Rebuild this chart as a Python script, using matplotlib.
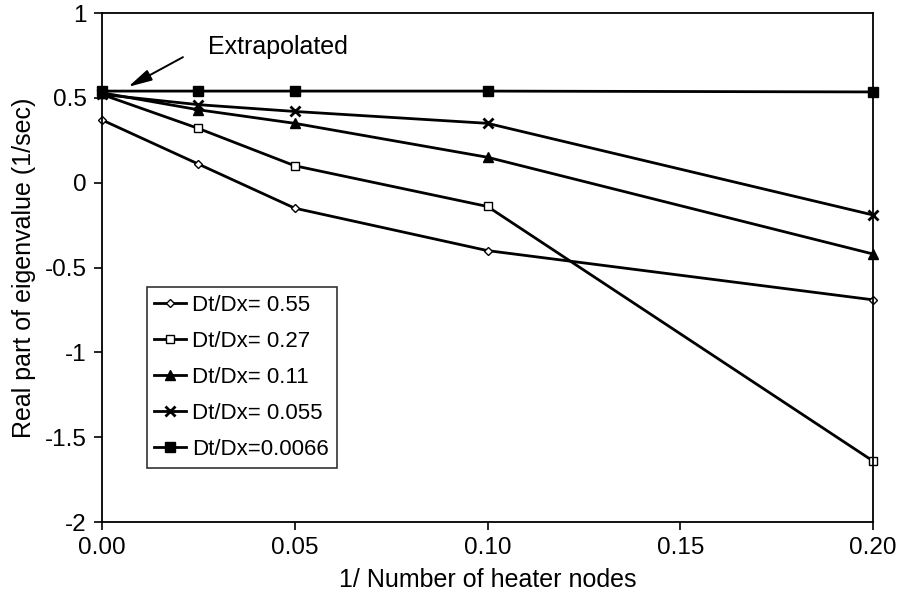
import matplotlib
matplotlib.use("Agg")
import matplotlib.pyplot as plt

plt.rcParams['font.family'] = ['Liberation Sans', 'DejaVu Sans']

# 1 / number of heater nodes
inv_nodes = [0.0, 0.025, 0.05, 0.10, 0.20]

# Real part of the eigenvalue (1/sec) for each time-step / space-step ratio
labels = ["Dt/Dx= 0.55", "Dt/Dx= 0.27", "Dt/Dx= 0.11", "Dt/Dx= 0.055", "Dt/Dx=0.0066"]
r_055 = [0.37, 0.11, -0.15, -0.40, -0.69]
r_027 = [0.52, 0.32, 0.10, -0.14, -1.64]
r_011 = [0.53, 0.43, 0.35, 0.15, -0.42]
r_0055 = [0.52, 0.46, 0.42, 0.35, -0.19]
r_00066 = [0.54, 0.54, 0.54, 0.54, 0.535]

x_ticks = [0.0, 0.05, 0.10, 0.15, 0.20]
x_ticklabels = ["0.00", "0.05", "0.10", "0.15", "0.20"]
y_ticks = [-2, -1.5, -1, -0.5, 0, 0.5, 1]
y_ticklabels = ["-2", "-1.5", "-1", "-0.5", "0", "0.5", "1"]

fig = plt.figure(figsize=(9.05, 5.92), dpi=100)
ax = fig.add_axes([0.1127, 0.118, 0.852, 0.860])

styles = [
    dict(marker='D', markersize=4.5, markerfacecolor='white'),
    dict(marker='s', markersize=6, markerfacecolor='white'),
    dict(marker='^', markersize=6.5, markerfacecolor='black'),
    dict(marker='x', markersize=7, markeredgewidth=2),
    dict(marker='s', markersize=6.5, markerfacecolor='black'),
]
series = [r_055, r_027, r_011, r_0055, r_00066]
for vals, lab, st in zip(series, labels, styles):
    ax.plot(inv_nodes, vals, color='black', linewidth=2, label=lab,
            markeredgecolor='black', clip_on=False, **st)

ax.set_xlim(0, 0.2)
ax.set_ylim(-2, 1)
ax.set_xticks(x_ticks)
ax.set_xticklabels(x_ticklabels)
ax.set_yticks(y_ticks)
ax.set_yticklabels(y_ticklabels)
ax.tick_params(direction='out', length=6, width=1.2, labelsize=17.5, colors='black', pad=5)
for sp in ax.spines.values():
    sp.set_linewidth(1.3)
    sp.set_color('black')

ax.set_xlabel("1/ Number of heater nodes", fontsize=18, labelpad=6)
ax.set_ylabel("Real part of eigenvalue (1/sec)", fontsize=18, labelpad=6)

# "Extrapolated" label with its pointer toward the x = 0 values
ax.text(0.0275, 0.80, "Extrapolated", fontsize=18, ha='left', va='center')
ax.annotate("", xy=(0.0068, 0.565), xytext=(0.0210, 0.74),
            arrowprops=dict(arrowstyle='-|>,head_length=0.9,head_width=0.22',
                            color='black', lw=1.4, mutation_scale=16,
                            shrinkA=0, shrinkB=0))

leg = ax.legend(loc='upper left', bbox_to_anchor=(0.058, 0.462), fontsize=16,
                frameon=True, fancybox=False, edgecolor='black',
                handlelength=1.4, handletextpad=0.3, borderpad=0.35,
                labelspacing=0.68, borderaxespad=0)
leg.get_frame().set_linewidth(1.2)

fig.savefig("out.png", dpi=100)
